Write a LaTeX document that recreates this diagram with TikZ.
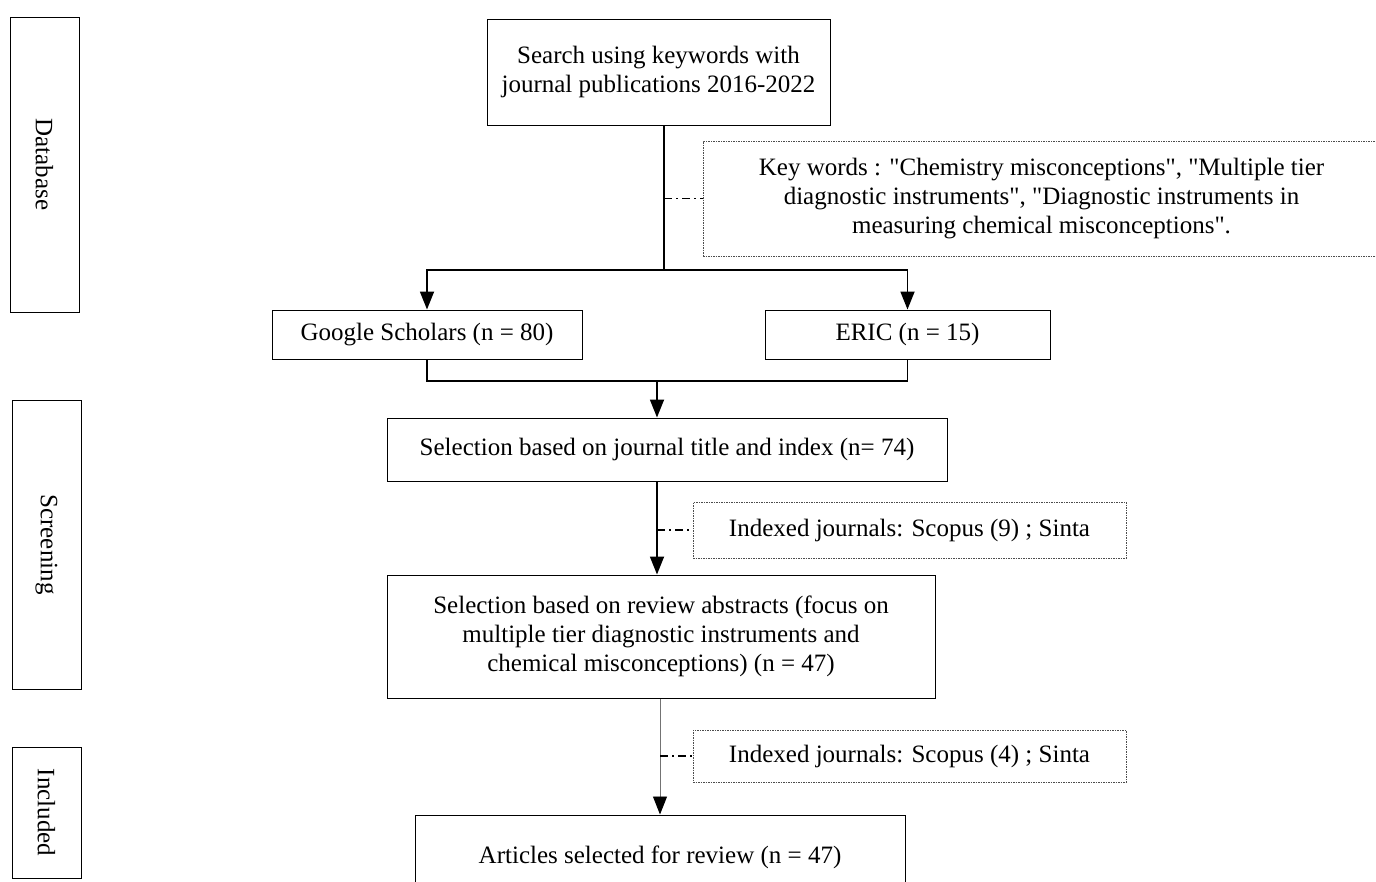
\documentclass[tikz,border=0pt]{standalone}
\usepackage{fontspec}
\setmainfont{Liberation Serif}
\usepackage{graphicx}
\usetikzlibrary{arrows.meta}
\begin{document}
\begin{tikzpicture}[x=1pt,y=-1pt,
	box/.style={draw=black,line width=1pt,align=center,inner sep=0pt,font=\fontsize{25}{29}\selectfont},
	sidebox/.style={box,minimum width=69pt},
	notebox/.style={draw=black!70,line width=0.8pt,dash pattern=on 1.5pt off 1pt,align=center,inner sep=0pt,font=\fontsize{25}{29}\selectfont},
	flow/.style={color=black,line width=1.8pt},
	thinflow/.style={color=black!55,line width=0.9pt},
	arr/.style={-{Triangle[width=14pt,length=18pt,color=black]}},
	dashdot/.style={color=black,line width=1.2pt,dash pattern=on 8pt off 4pt on 2pt off 4pt}]
	\useasboundingbox (0,0) rectangle (1376,881);
	\node[sidebox,minimum height=295pt] (database) at (44.5,164.5) {\rotatebox{-90}{Database}};
	\node[sidebox,minimum height=289pt] (screening) at (46.5,544.5) {\rotatebox{-90}{Screening}};
	\node[sidebox,minimum height=131pt] (included) at (46.5,812.5) {\rotatebox{-90}{Included}};
	\node[box,minimum width=343pt,minimum height=106pt] (search) at (658.5,72) {Search using keywords with\\journal publications 2016-2022};
	\node[notebox,minimum width=677pt,minimum height=115pt] (keywords) at (1041.5,198.5) {Key words : \textquotedbl Chemistry misconceptions\textquotedbl, \textquotedbl Multiple tier\\diagnostic instruments\textquotedbl, \textquotedbl Diagnostic instruments in\\measuring chemical misconceptions\textquotedbl.};
	\node[box,minimum width=310pt,minimum height=49pt] (scholar) at (427,334.5) {Google Scholars (n = 80)};
	\node[box,minimum width=285pt,minimum height=49pt] (eric) at (907.5,334.5) {ERIC (n = 15)};
	\node[box,minimum width=560pt,minimum height=63pt] (titlesel) at (667,449.5) {Selection based on journal title and index (n= 74)};
	\node[notebox,minimum width=433pt,minimum height=56pt] (indexone) at (909.5,530) {Indexed journals: Scopus (9) ; Sinta};
	\node[box,minimum width=548pt,minimum height=123pt] (abstractsel) at (661,636.5) {Selection based on review abstracts (focus on\\multiple tier diagnostic instruments and\\chemical misconceptions) (n = 47)};
	\node[notebox,minimum width=433pt,minimum height=52pt] (indextwo) at (909.5,756) {Indexed journals: Scopus (4) ; Sinta};
	\node[box,minimum width=490pt,minimum height=84pt] (articles) at (660,857) {Articles selected for review (n = 47)};
	\coordinate (split) at (664,270);
	\coordinate (merge) at (657,381);
	\draw[flow] (search.south -| split) -- (split);
	\draw[flow,arr] (split) -| (scholar.north);
	\draw[flow,arr] (split) -| (eric.north);
	\draw[dashdot] (keywords.west -| split) -- (keywords.west);
	\draw[flow] (scholar.south) |- (merge);
	\draw[flow] (eric.south) |- (merge);
	\draw[flow,arr] (merge) -- (merge |- titlesel.north);
	\draw[flow,arr] (merge |- titlesel.south) -- (merge |- abstractsel.north);
	\draw[dashdot] (merge |- indexone.west) -- (indexone.west);
	\draw[thinflow,arr] (abstractsel.south -| articles.north) -- (articles.north);
	\draw[dashdot] (articles.north |- indextwo.west) -- (indextwo.west);
\end{tikzpicture}
\end{document}
